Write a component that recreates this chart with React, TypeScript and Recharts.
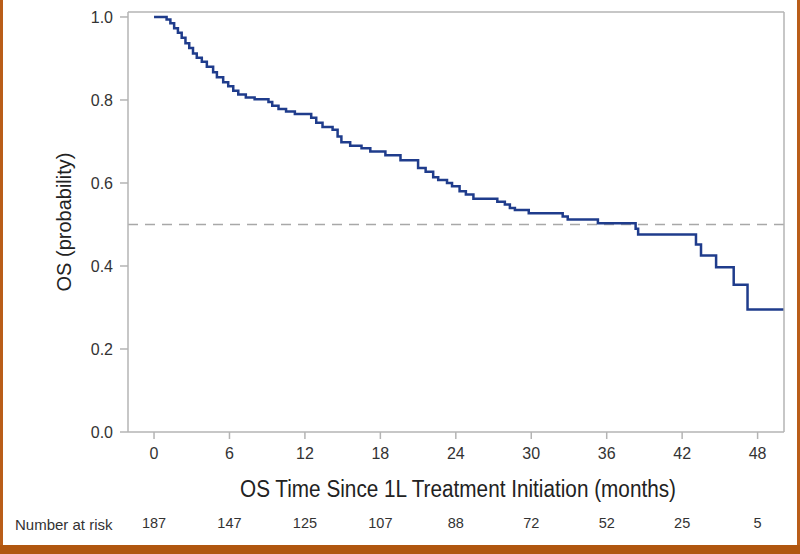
import React from 'react';
import { LineChart, Line, XAxis, YAxis, ReferenceLine } from 'recharts';

const months = [0, 1.0, 1.3, 1.6, 1.9, 2.2, 2.5, 2.8, 3.1, 3.4, 3.8, 4.2, 4.7, 5.0, 5.5, 5.9, 6.3, 6.7, 7.3, 8.0, 9.1, 9.4, 9.9, 10.5, 11.2, 12.5, 12.9, 13.4, 14.2, 14.6, 14.9, 15.6, 16.5, 17.2, 18.4, 19.6, 21.0, 21.6, 22.2, 22.6, 23.3, 23.7, 24.3, 24.8, 25.4, 27.3, 27.9, 28.3, 28.7, 29.8, 32.5, 32.9, 35.3, 38.3, 38.5, 43.1, 43.5, 44.7, 46.1, 47.2, 50.1];
const survival = [1.0, 0.994, 0.985, 0.973, 0.962, 0.95, 0.937, 0.925, 0.912, 0.902, 0.892, 0.88, 0.867, 0.855, 0.843, 0.833, 0.822, 0.813, 0.806, 0.802, 0.795, 0.786, 0.778, 0.772, 0.766, 0.757, 0.745, 0.735, 0.728, 0.712, 0.698, 0.69, 0.684, 0.676, 0.667, 0.655, 0.636, 0.627, 0.614, 0.607, 0.6, 0.592, 0.58, 0.572, 0.562, 0.555, 0.548, 0.54, 0.535, 0.527, 0.519, 0.512, 0.503, 0.49, 0.476, 0.452, 0.425, 0.397, 0.355, 0.295, 0.295];
const xTicks = [0, 6, 12, 18, 24, 30, 36, 42, 48];
const yTicks = [0, 0.2, 0.4, 0.6, 0.8, 1.0];
const atRisk = [187, 147, 125, 107, 88, 72, 52, 25, 5];
const medianLine = 0.5;

const data = months.map((m, i) => ({ t: m, s: survival[i] }));

const AXIS_GRAY = '#b4b4b4';
const TEXT = '#333333';
const FONT = '"Liberation Sans", Arial, sans-serif';

const XTick = (props: any) => {
  const { x, y, payload, index } = props;
  return (
    <g>
      <text x={x} y={y} dy="0.71em" textAnchor="middle" fill={TEXT} fontSize={16} fontFamily={FONT}>
        {payload.value}
      </text>
      <text x={x} y={y + 70} dy="0.71em" textAnchor="middle" fill={TEXT} fontSize={14.5} fontFamily={FONT}>
        {atRisk[index]}
      </text>
    </g>
  );
};

const XTitle = (props: any) => {
  const vb = props.viewBox || {};
  const cx = vb.x + vb.width / 2;
  return (
    <g>
      <text x={cx + 2} y={vb.y + 65} textAnchor="middle" fill="#222" fontSize={23.5} fontFamily={FONT} textLength={436} lengthAdjust="spacingAndGlyphs">
        OS Time Since 1L Treatment Initiation (months)
      </text>
      <text x={15} y={vb.y + 98} textAnchor="start" fill={TEXT} fontSize={15} fontFamily={FONT}>
        Number at risk
      </text>
    </g>
  );
};

const YTitle = (props: any) => {
  const vb = props.viewBox || {};
  const cy = vb.y + vb.height / 2;
  const x = 71;
  return (
    <text x={x} y={cy} transform={`rotate(-90, ${x}, ${cy})`} textAnchor="middle" fill="#222" fontSize={20} fontFamily={FONT}>
      OS (probability)
    </text>
  );
};

export default function App() {
  return (
    <div style={{ position: 'absolute', left: 0, top: 0, width: 800, height: 554, background: '#ffffff', overflow: 'hidden' }}>
      <LineChart width={800} height={554} data={data} margin={{ top: 11, right: 15, bottom: 0, left: 0 }}>
        <XAxis
          dataKey="t"
          type="number"
          domain={[-2.07, 50.1]}
          ticks={xTicks}
          allowDataOverflow
          height={122}
          stroke={AXIS_GRAY}
          strokeWidth={1.5}
          tickSize={7}
          tickMargin={9}
          tick={<XTick />}
          label={<XTitle />}
        />
        <XAxis xAxisId="top" dataKey="t" type="number" domain={[-2.07, 50.1]} allowDataOverflow orientation="top" height={1} tick={false} tickLine={false} stroke={AXIS_GRAY} strokeWidth={1.5} />
        <YAxis
          type="number"
          domain={[0, 1.012]}
          ticks={yTicks}
          allowDataOverflow
          width={128}
          stroke={AXIS_GRAY}
          strokeWidth={1.5}
          tickSize={8}
          tickMargin={7}
          tickFormatter={(v: number) => v.toFixed(1)}
          tick={{ fill: TEXT, fontSize: 16, fontFamily: FONT }}
          label={<YTitle />}
        />
        <YAxis yAxisId="right" type="number" orientation="right" domain={[0, 1.012]} allowDataOverflow width={1} tick={false} tickLine={false} stroke={AXIS_GRAY} strokeWidth={1.5} />
        <ReferenceLine y={medianLine} stroke="#a8a8a8" strokeWidth={1.5} strokeDasharray="10 7" />
        <Line type="stepAfter" dataKey="s" stroke="#1f3c8c" strokeWidth={2.5} dot={false} isAnimationActive={false} />
      </LineChart>
      <div style={{ position: 'absolute', left: 0, top: 0, width: 3, height: 554, background: '#b95d18' }} />
      <div style={{ position: 'absolute', right: 0, top: 0, width: 3, height: 554, background: '#b95d18' }} />
      <div style={{ position: 'absolute', left: 0, top: 545, width: 800, height: 9, background: '#b0560f' }} />
    </div>
  );
}
